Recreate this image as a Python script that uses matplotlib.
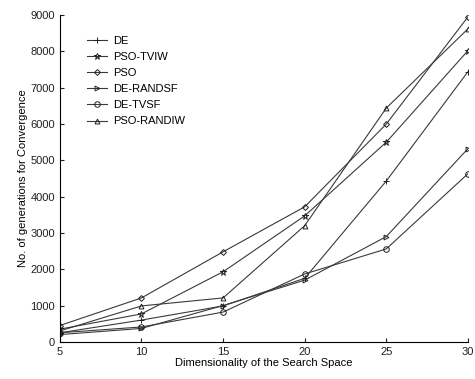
import numpy as np
import matplotlib.pyplot as plt

plt.rcParams['font.family'] = ['Liberation Sans', 'DejaVu Sans']

dims = [5, 10, 15, 20, 25, 30]
de = [250, 600, 990, 1750, 4430, 7440]
pso_tviw = [350, 770, 1930, 3470, 5500, 8020]
pso = [450, 1210, 2480, 3720, 6000, 8950]
de_randsf = [200, 370, 1000, 1700, 2900, 5320]
de_tvsf = [250, 410, 820, 1870, 2560, 4630]
pso_randiw = [300, 990, 1210, 3200, 6440, 8620]

names = ['DE', 'PSO-TVIW', 'PSO', 'DE-RANDSF', 'DE-TVSF', 'PSO-RANDIW']
series = [de, pso_tviw, pso, de_randsf, de_tvsf, pso_randiw]
markers = ['+', '*', 'D', '>', 'o', '^']
sizes = [5, 5, 3, 3.5, 4, 3.5]

fig = plt.figure(figsize=(4.75, 3.79), dpi=100)
ax = fig.add_axes([0.126, 0.098, 0.859, 0.862])

for s, n, m, ms in zip(series, names, markers, sizes):
    ax.plot(dims, s, color='#3a3a3a', linewidth=0.8, marker=m, markersize=ms,
            markerfacecolor='none', markeredgecolor='#202020', markeredgewidth=0.7,
            label=n)

ax.set_xlim(5, 30)
ax.set_ylim(0, 9000)
ax.set_xticks(dims)
ax.set_yticks(np.arange(0, 9001, 1000))
ax.tick_params(direction='in', labelsize=8, length=3, colors='#202020')
ax.spines['top'].set_visible(False)
ax.spines['right'].set_visible(False)
ax.set_xlabel('Dimensionality of the Search Space', fontsize=8, labelpad=1)
ax.set_ylabel('No. of generations for Convergence', fontsize=8, labelpad=2)
ax.legend(loc='upper left', bbox_to_anchor=(0.055, 0.95), frameon=False, fontsize=8,
          handlelength=1.8, labelspacing=0.55, borderaxespad=0, handletextpad=0.6)

plt.savefig('out.png', dpi=100)
